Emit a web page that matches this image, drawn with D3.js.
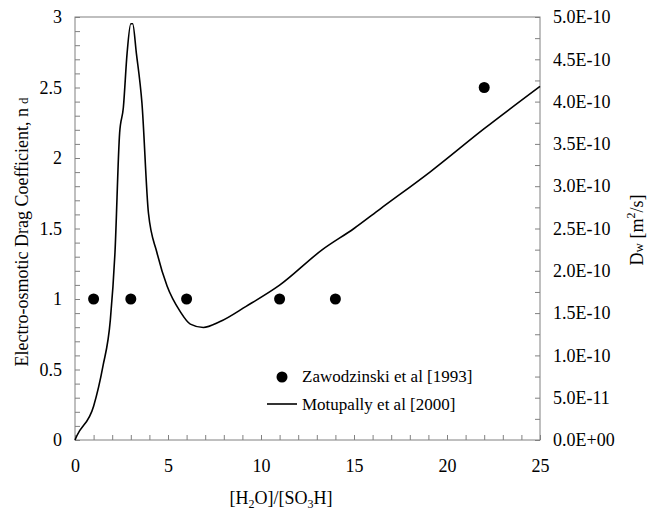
<!DOCTYPE html>
<html>
<head>
<meta charset="utf-8">
<script src="https://cdn.jsdelivr.net/npm/d3@7"></script>
<style>
  body { margin: 0; background: #fff; }
  svg { display: block; font-family: "Liberation Serif", "Times New Roman", serif; }
</style>
</head>
<body>
<div id="chart"></div>
<script>
// Zawodzinski et al [1993] - measured drag coefficient
const zawLambda = [1, 3, 6, 11, 14, 22];
const zawDrag = [1, 1, 1, 1, 1, 2.5];

// Motupally et al [2000] - water diffusion coefficient Dw (m^2/s)
const motLambda = [0, 0.1, 1.0, 1.5, 1.9, 2.15, 2.4, 2.6, 2.8, 3.0, 3.1, 3.3, 3.6, 3.95,
  4.4, 4.95, 5.65, 6.2, 6.9, 7.8, 9.2, 11.0, 13.3, 15.0, 16.4, 19.1, 22.0, 25.0];
const motDw = [0, 0.05e-10, 0.40e-10, 0.87e-10, 1.42e-10, 2.22e-10, 3.63e-10, 3.93e-10,
  4.57e-10, 4.92e-10, 4.92e-10, 4.57e-10, 3.98e-10, 2.68e-10, 2.22e-10, 1.82e-10,
  1.52e-10, 1.37e-10, 1.33e-10, 1.40e-10, 1.58e-10, 1.83e-10, 2.25e-10, 2.50e-10,
  2.73e-10, 3.17e-10, 3.68e-10, 4.18e-10];

// tick values
const xTicks = [0, 5, 10, 15, 20, 25];
const leftTicks = [0, 0.5, 1, 1.5, 2, 2.5, 3];
const rightTicks = d3.range(0, 11).map(i => i * 5e-11);

const W = 647, H = 514;
const plot = { left: 75, right: 540, top: 17, bottom: 440 };
const axisColor = "#808080";

const svg = d3.select("#chart").append("svg")
  .attr("width", W)
  .attr("height", H);

const x = d3.scaleLinear().domain([0, 25]).range([plot.left, plot.right]);
const yL = d3.scaleLinear().domain([0, 3]).range([plot.bottom, plot.top]);
const yR = d3.scaleLinear().domain([0, 5e-10]).range([plot.bottom, plot.top]);

function styleAxis(g) {
  g.select(".domain").remove();
  g.selectAll(".tick line").attr("stroke", axisColor);
  g.selectAll(".tick text").attr("fill", "#000").style("font-size", "18px")
    .style("font-family", "Liberation Serif, Times New Roman, serif");
}

// minor ticks
svg.append("g")
  .attr("transform", `translate(0,${plot.bottom})`)
  .call(d3.axisBottom(x).tickValues(d3.range(0, 26)).tickSize(-5).tickFormat(""))
  .call(styleAxis);
svg.append("g")
  .attr("transform", `translate(${plot.left},0)`)
  .call(d3.axisLeft(yL).tickValues(d3.range(0, 31).map(i => i / 10)).tickSize(-5).tickFormat(""))
  .call(styleAxis);
svg.append("g")
  .attr("transform", `translate(${plot.right},0)`)
  .call(d3.axisRight(yR).tickValues(d3.range(0, 21).map(i => i * 2.5e-11)).tickSize(-5).tickFormat(""))
  .call(styleAxis);

// labelled axes
svg.append("g")
  .attr("transform", `translate(0,${plot.bottom})`)
  .call(d3.axisBottom(x).tickValues(xTicks).tickSize(0).tickPadding(19).tickFormat(d3.format("d")))
  .call(styleAxis);
svg.append("g")
  .attr("transform", `translate(${plot.left},0)`)
  .call(d3.axisLeft(yL).tickValues(leftTicks).tickSize(0).tickPadding(13).tickFormat(d => String(d)))
  .call(styleAxis);
svg.append("g")
  .attr("transform", `translate(${plot.right},0)`)
  .call(d3.axisRight(yR).tickValues(rightTicks).tickSize(0).tickPadding(13)
    .tickFormat(d => d < 1e-20 ? "0.0E+00" : d.toExponential(1).toUpperCase()))
  .call(styleAxis);

// frame
svg.append("rect")
  .attr("x", plot.left).attr("y", plot.top)
  .attr("width", plot.right - plot.left).attr("height", plot.bottom - plot.top)
  .attr("fill", "none").attr("stroke", axisColor).attr("stroke-width", 1);

// Motupally curve
const motData = motLambda.map((l, i) => ({ l: l, d: motDw[i] }));
svg.append("path")
  .datum(motData)
  .attr("fill", "none")
  .attr("stroke", "#000")
  .attr("stroke-width", 1.6)
  .attr("d", d3.line().x(d => x(d.l)).y(d => yR(d.d)).curve(d3.curveMonotoneX));

// Zawodzinski points
svg.append("g").selectAll("circle")
  .data(zawLambda.map((l, i) => ({ l: l, n: zawDrag[i] })))
  .join("circle")
  .attr("cx", d => x(d.l))
  .attr("cy", d => yL(d.n))
  .attr("r", 5.5)
  .attr("fill", "#000");

// legend
const leg = svg.append("g").style("font-size", "17px");
leg.append("circle").attr("cx", 282).attr("cy", 377).attr("r", 5.5).attr("fill", "#000");
leg.append("text").attr("x", 302).attr("y", 382).text("Zawodzinski et al [1993]");
leg.append("line").attr("x1", 267).attr("x2", 297).attr("y1", 404).attr("y2", 404)
  .attr("stroke", "#000").attr("stroke-width", 1.6);
leg.append("text").attr("x", 302).attr("y", 410).text("Motupally et al [2000]");

// axis titles
const xt = svg.append("text")
  .attr("x", 281).attr("y", 504)
  .attr("text-anchor", "middle")
  .style("font-size", "18px");
xt.append("tspan").text("[H");
xt.append("tspan").text("2").style("font-size", "12px").attr("dy", 4);
xt.append("tspan").text("O]/[SO").attr("dy", -4);
xt.append("tspan").text("3").style("font-size", "12px").attr("dy", 4);
xt.append("tspan").text("H]").attr("dy", -4);

const yt = svg.append("text")
  .attr("transform", "translate(28,232) rotate(-90)")
  .attr("text-anchor", "middle")
  .style("font-size", "18px");
yt.append("tspan").text("Electro-osmotic Drag Coefficient, n");
yt.append("tspan").text("d").style("font-size", "13px").attr("dx", 4);

const rt = svg.append("text")
  .attr("transform", "translate(643,230) rotate(-90)")
  .attr("text-anchor", "middle")
  .style("font-size", "18px");
rt.append("tspan").text("D");
rt.append("tspan").text("w").style("font-size", "13px");
rt.append("tspan").text(" [m");
rt.append("tspan").text("2").style("font-size", "12px").attr("dy", -8);
rt.append("tspan").text("/s]").attr("dy", 8);
</script>
</body>
</html>
